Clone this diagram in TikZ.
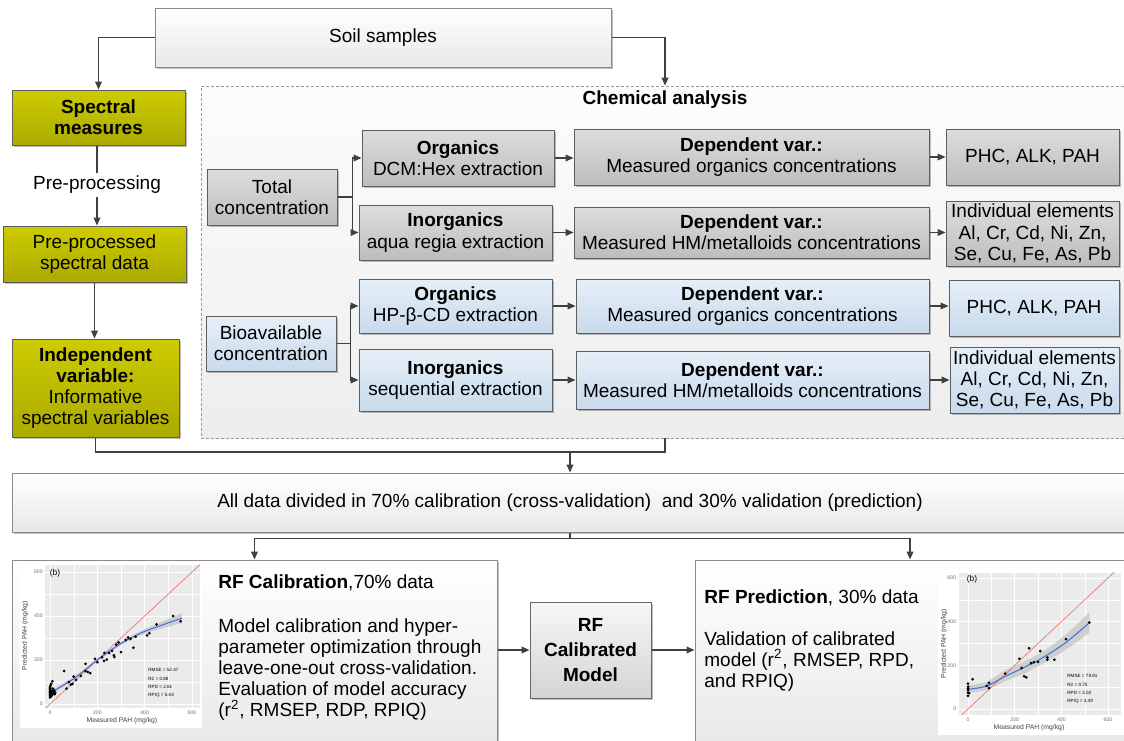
\documentclass[tikz,border=0pt]{standalone}
\usepackage{fontspec}
\setmainfont{Liberation Sans}
\usetikzlibrary{arrows.meta,shadows}

\definecolor{olivetop}{HTML}{CDCC00}
\definecolor{olivebot}{HTML}{ABAA00}
\definecolor{graytop}{HTML}{DDDDDD}
\definecolor{graybot}{HTML}{BDBDBD}
\definecolor{bluetop}{HTML}{E6EFF8}
\definecolor{bluebot}{HTML}{C8DAEC}
\definecolor{edge}{HTML}{5E5E5E}
\definecolor{lightedge}{HTML}{8A8A8A}
\definecolor{panelgray}{HTML}{EBEBEB}
\definecolor{fitblue}{HTML}{3B6FE0}
\definecolor{diagred}{HTML}{F08080}

\tikzset{
  box/.style={draw=edge, line width=0.5pt, align=center, inner sep=1pt,
    drop shadow={shadow xshift=1pt, shadow yshift=-1pt, opacity=0.25, fill=black}},
  olivebox/.style={box, top color=olivetop, bottom color=olivebot},
  graybox/.style={box, top color=graytop, bottom color=graybot},
  bluebox/.style={box, top color=bluetop, bottom color=bluebot},
  plainbox/.style={box, draw=lightedge, top color=white, bottom color=black!9},
  arr/.style={draw=black!75, line width=0.6pt, -{Triangle[length=4pt,width=3.4pt]}},
  link/.style={draw=black!75, line width=0.6pt},
  ticklab/.style={font=\fontsize{2.6}{3}\selectfont, text=black!55, inner sep=0.6pt},
  axistitle/.style={font=\fontsize{3.4}{4}\selectfont, text=black!75, inner sep=0pt},
  statlab/.style={font=\fontsize{2.3}{4.2}\selectfont, align=left, anchor=north west, inner sep=0pt},
  gridmajor/.style={white, line width=0.35pt},
  gridminor/.style={white, line width=0.15pt},
}

\begin{document}
\begin{tikzpicture}[x=0.5pt, y=-0.5pt, font=\fontsize{9.5}{10.6}\selectfont]
\useasboundingbox (0,0) rectangle (1124,740);
\clip (0,0) rectangle (1124,740);

% top and spectral column
\node[plainbox, minimum width=228pt, minimum height=29.5pt] (soil) at (383,37.5) {Soil samples};
\node[olivebox, minimum width=86.5pt, minimum height=27.5pt] (spec) at (98.5,117.5) {\textbf{Spectral}\\\textbf{measures}};
\node[inner sep=1.5pt] (prelab) at (97,185) {Pre-processing};
\node[olivebox, minimum width=91.5pt, minimum height=28pt] (preproc) at (94.5,254) {Pre-processed\\spectral data};
\node[olivebox, minimum width=83.5pt, minimum height=49pt] (indep) at (95.5,388) {\textbf{Independent}\\\textbf{variable:}\\Informative\\spectral variables};

% chemical analysis
\node[draw=black!40, dash pattern=on 1.5pt off 1pt, top color=black!1, bottom color=black!7,
      minimum width=464pt, minimum height=176pt, inner sep=0pt] (chembox) at (665,262) {};
\node (chemtitle) at (665,100) {\textbf{Chemical analysis}};

\node[graybox, minimum width=65pt, minimum height=28pt] (total) at (272,197) {Total\\concentration};
\node[graybox, minimum width=96pt, minimum height=28pt] (orgT) at (458,158) {\textbf{Organics}\\DCM:Hex extraction};
\node[graybox, minimum width=96.5pt, minimum height=27.5pt] (inorgT) at (455.5,232.5) {\textbf{Inorganics}\\aqua regia extraction};
\node[graybox, minimum width=177.5pt, minimum height=28pt] (depOT) at (751.5,157) {\textbf{Dependent var.:}\\Measured organics concentrations};
\node[graybox, minimum width=177.5pt, minimum height=25.5pt] (depHT) at (751.5,232.5) {\textbf{Dependent var.:}\\Measured HM/metalloids concentrations};
\node[graybox, minimum width=86.5pt, minimum height=28pt] (phcT) at (1032.5,157) {PHC, ALK, PAH};
\node[graybox, minimum width=86.5pt, minimum height=32.5pt] (elT) at (1032.5,233.5) {Individual elements\\Al, Cr, Cd, Ni, Zn,\\Se, Cu, Fe, As, Pb};

\node[bluebox, minimum width=65pt, minimum height=27.5pt] (bio) at (271,343.5) {Bioavailable\\concentration};
\node[bluebox, minimum width=96.5pt, minimum height=27pt] (orgB) at (455.5,306) {\textbf{Organics}\\HP-β-CD extraction};
\node[bluebox, minimum width=96.5pt, minimum height=31pt] (inorgB) at (455.5,380) {\textbf{Inorganics}\\sequential extraction};
\node[bluebox, minimum width=176.5pt, minimum height=27pt] (depOB) at (752.5,306) {\textbf{Dependent var.:}\\Measured organics concentrations};
\node[bluebox, minimum width=176.5pt, minimum height=29pt] (depHB) at (752.5,380) {\textbf{Dependent var.:}\\Measured HM/metalloids concentrations};
\node[bluebox, minimum width=85pt, minimum height=28pt] (phcB) at (1034,308) {PHC, ALK, PAH};
\node[bluebox, minimum width=84.5pt, minimum height=33pt] (elB) at (1034.5,380) {Individual elements\\Al, Cr, Cd, Ni, Zn,\\Se, Cu, Fe, As, Pb};

% data split and models
\node[plainbox, minimum width=558pt, minimum height=29.5pt] (alldata) at (570,502.5) {All data divided in 70\% calibration (cross-validation)\ \ and 30\% validation (prediction)};
\node[plainbox, minimum width=242.5pt, minimum height=95pt] (calib) at (254.5,655) {};
\node[plainbox, minimum width=215pt, minimum height=95pt] (predict) at (910,655) {};
\node[box, draw=black!60, top color=black!3, bottom color=black!17, minimum width=60.5pt, minimum height=48pt,
      font=\fontsize{9.5}{12.5}\selectfont] (rfmodel) at (590.5,650) {\textbf{RF}\\\textbf{Calibrated}\\\textbf{Model}};

\node[anchor=west, inner sep=0pt] (caltitle) at (218,583) {\textbf{RF Calibration},70\% data};
\node[anchor=north west, align=left, inner sep=0pt] (caltext) at (218,618) {Model calibration and hyper-\\parameter optimization through\\leave-one-out cross-validation.\\Evaluation of model accuracy\\(r\textsuperscript{2}, RMSEP, RDP, RPIQ)};
\node[anchor=west, inner sep=0pt] (predtitle) at (704,598) {\textbf{RF Prediction}, 30\% data};
\node[anchor=north west, align=left, inner sep=0pt] (predtext) at (704,631) {Validation of calibrated\\model (r\textsuperscript{2}, RMSEP, RPD,\\and RPIQ)};

% connectors
\draw[arr] (soil.west) -| (spec.north);
\draw[arr] (soil.east) -| (chembox.north);
\draw[link] (prelab.north |- spec.south) -- (prelab.north);
\draw[arr] (prelab.south) -- (prelab.south |- preproc.north);
\draw[arr] (preproc.south) -- (preproc.south |- indep.north);
\coordinate (join) at (570,452);
\draw[link] (indep.south) |- (join) -| (chembox.south);
\draw[arr] (join) -- (join |- alldata.north);

\draw[arr] (total.east) -- ++(15,0) |- (orgT.west);
\draw[arr] (total.east) -- ++(15,0) |- (inorgT.west);
\draw[arr] (bio.east) -- ++(14,0) |- (orgB.west);
\draw[arr] (bio.east) -- ++(14,0) |- (inorgB.west);
\draw[arr] (orgT.east) -- (orgT.east -| depOT.west);
\draw[arr] (inorgT.east) -- (inorgT.east -| depHT.west);
\draw[arr] (orgB.east) -- (orgB.east -| depOB.west);
\draw[arr] (inorgB.east) -- (inorgB.east -| depHB.west);
\draw[arr] (depOT.east) -- (depOT.east -| phcT.west);
\draw[arr] (depHT.east) -- (depHT.east -| elT.west);
\draw[arr] (depOB.east) -- (depOB.east -| phcB.west);
\draw[arr] (depHB.east) -- (depHB.east -| elB.west);

\draw[link] (alldata.south) -- ++(0,6) coordinate (split);
\draw[arr] (split) -| (calib.north);
\draw[arr] (split) -| (predict.north);
\draw[arr] (rfmodel.west -| calib.east) -- (rfmodel.west);
\draw[arr] (rfmodel.east) -- (rfmodel.east -| predict.west);

% calibration plot
\fill[white] (20,564) rectangle (202,728);
\begin{scope}[shift={(25pt,-352pt)}, x=0.11835pt, y=0.11pt]
  \fill[panelgray] (-21,-18) rectangle (634,632);
  \foreach \g in {100,300,500} {
    \draw[gridminor] (\g,-18) -- (\g,632);
    \draw[gridminor] (-21,\g) -- (634,\g);
  }
  \foreach \g in {0,200,400,600} {
    \draw[gridmajor] (\g,-18) -- (\g,632);
    \draw[gridmajor] (-21,\g) -- (634,\g);
    \node[ticklab, anchor=east] at (-24,\g) {\g};
    \node[ticklab, anchor=north] at (\g,-22) {\g};
  }
  \fill[black!22, opacity=0.8] plot[smooth] coordinates {(8,67) (100,122) (200,206) (300,282) (400,340) (557,412)}
    -- plot[smooth] coordinates {(557,368) (400,320) (300,268) (200,194) (100,108) (8,43)} -- cycle;
  \begin{scope}
    \clip (-21,-18) rectangle (634,632);
    \draw[diagred, line width=0.4pt] (-30,-30) -- (640,640);
  \end{scope}
  \draw[fitblue, line width=0.5pt] plot[smooth] coordinates {(8,55) (100,115) (200,200) (300,275) (400,330) (557,390)};
  \foreach \px/\py in {0/30,0/38,0/45,0/52,0/58,0/64,0/70,0/76,2/84,4/35,5/50,5/92,8/60,10/42,
      10/104,12/70,14/55,16/48,18/62,20/45,22/52,60/150,70/70,80/100,88/88,95/92,100/125,110/110,
      130/128,150/182,150/150,160/146,170/140,190/205,200/190,220/212,230/232,228/196,240/202,
      250/232,262/242,270/222,272/214,280/270,290/280,300/236,320/292,330/302,340/296,352/256,
      362/306,410/312,420/322,450/362,520/400,552/376}
    \fill (\px,\py) circle (0.75pt);
\end{scope}
\node[axistitle, rotate=90] (calylab) at (25,636) {Predicted PAH (mg/kg)};
\node[axistitle] (calxlab) at (122,721) {Measured PAH (mg/kg)};
\node[font=\fontsize{4.2}{5}\selectfont, inner sep=0pt] (calb) at (55,573) {(b)};
\node[statlab] (calstat) at (148,668) {RMSE = 52.47\\R2 = 0.88\\RPD = 2.81\\RPIQ = 5.04};

% prediction plot
\fill[white] (938,571) rectangle (1124,735);
\begin{scope}[shift={(484pt,-354.5pt)}, x=0.11667pt, y=0.10917pt]
  \fill[panelgray] (-40,-27) rectangle (655,623);
  \foreach \g in {100,300,500} {
    \draw[gridminor] (\g,-27) -- (\g,623);
    \draw[gridminor] (-40,\g) -- (655,\g);
  }
  \foreach \g in {0,200,400,600} {
    \draw[gridmajor] (\g,-27) -- (\g,623);
    \draw[gridmajor] (-40,\g) -- (655,\g);
    \node[ticklab, anchor=east] at (-44,\g) {\g};
    \node[ticklab, anchor=north] at (\g,-31) {\g};
  }
  \fill[black!22, opacity=0.8] plot[smooth] coordinates {(0,108) (80,125) (160,178) (240,218) (320,262) (420,342) (520,442)}
    -- plot[smooth] coordinates {(520,350) (420,272) (320,208) (240,162) (160,128) (80,88) (0,72)} -- cycle;
  \begin{scope}
    \clip (-40,-27) rectangle (655,623);
    \draw[diagred, line width=0.4pt] (-40,-40) -- (660,660);
  \end{scope}
  \draw[fitblue, line width=0.5pt] plot[smooth] coordinates {(0,90) (80,105) (160,150) (240,190) (320,235) (420,305) (520,395)};
  \foreach \px/\py in {0/60,0/75,0/86,0/95,0/102,0/116,5/72,20/136,80/106,90/120,90/96,160/162,
      220/230,230/188,240/150,250/145,262/278,270/210,282/214,300/216,310/265,340/236,340/226,
      370/226,420/320,520/396}
    \fill (\px,\py) circle (0.75pt);
\end{scope}
\node[axistitle, rotate=90] (predylab) at (944,644) {Predicted PAH (mg/kg)};
\node[axistitle] (predxlab) at (1029,728) {Measured PAH (mg/kg)};
\node[font=\fontsize{4.2}{5}\selectfont, inner sep=0pt] (predb) at (972,579) {(b)};
\node[statlab] (predstat) at (1067,674) {RMSE = 79.81\\R2 = 0.75\\RPD = 2.02\\RPIQ = 3.49};
\end{tikzpicture}
\end{document}
